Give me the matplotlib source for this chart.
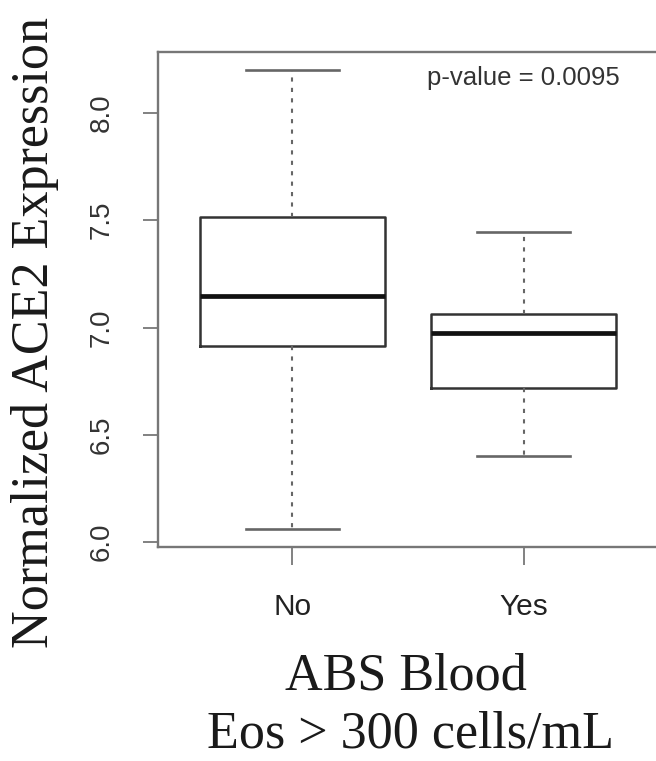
import matplotlib
matplotlib.use("Agg")
import matplotlib.pyplot as plt

# ---- data ----
groups = ["No", "Yes"]
whisker_low = [6.06, 6.40]
q1 = [6.915, 6.717]
median = [7.148, 6.973]
q3 = [7.514, 7.062]
whisker_high = [8.20, 7.444]
y_ticks = [6.0, 6.5, 7.0, 7.5, 8.0]
p_text = "p-value = 0.0095"

fig = plt.figure(figsize=(6.56, 7.61), dpi=100)
ax = fig.add_axes([158 / 656, 1 - 547 / 761, 500 / 656, 495 / 761])

stats = []
for i, g in enumerate(groups):
    stats.append(dict(label=g, whislo=whisker_low[i], q1=q1[i], med=median[i],
                      q3=q3[i], whishi=whisker_high[i], fliers=[]))

ax.bxp(stats, positions=[1, 2], widths=0.8, showfliers=False,
       boxprops=dict(color="#333333", linewidth=1.8),
       medianprops=dict(color="#111111", linewidth=3.4, solid_capstyle="butt"),
       whiskerprops=dict(color="#666666", linewidth=1.5, linestyle=(0, (2, 3))),
       capprops=dict(color="#666666", linewidth=1.9),
       capwidths=0.4)

ax.set_xlim(0.42, 2.58)
ax.set_ylim(5.977, 8.284)
ax.set_yticks(y_ticks)
ax.set_yticklabels([f"{v:.1f}" for v in y_ticks], rotation=90, va="center",
                   fontsize=20, family="Liberation Sans", color="#333333")
ax.set_xticks([1, 2])
ax.set_xticklabels(groups, fontsize=21.5, family="Liberation Sans", color="#222222")
ax.tick_params(axis="y", length=10.5, width=1.3, color="#777777", pad=21)
ax.tick_params(axis="x", length=13, width=1.3, color="#777777", pad=20)
for s in ax.spines.values():
    s.set_color("#777777")
    s.set_linewidth(1.7)

ax.text(2.0, 8.163, p_text, ha="center", va="center", fontsize=18.5,
        family="Liberation Sans", color="#333333")

fig.text(35 / 656, 1 - 333 / 761, "Normalized ACE2 Expression", rotation=90,
         ha="center", va="center", fontsize=37.5, family="Liberation Serif",
         color="#1a1a1a")
fig.text(406 / 656, 1 - 676 / 761, "ABS Blood", ha="center", va="center",
         fontsize=37.5, family="Liberation Serif", color="#1a1a1a")
fig.text(411 / 656, 1 - 735 / 761, "Eos > 300 cells/mL", ha="center", va="center",
         fontsize=37.5, family="Liberation Serif", color="#1a1a1a")

fig.savefig("out.png", dpi=100)
